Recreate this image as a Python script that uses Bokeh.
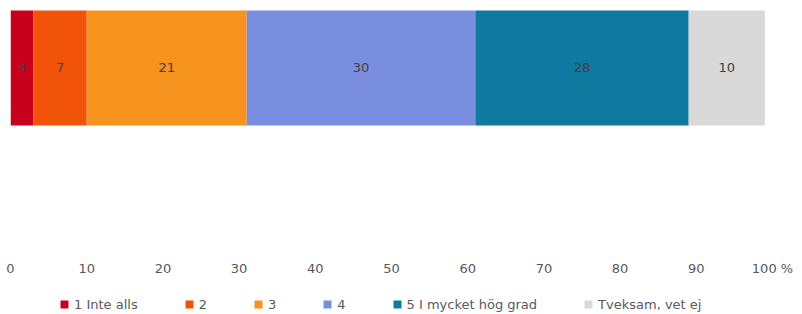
from bokeh.plotting import figure
from bokeh.models import Range1d, Legend, LegendItem, FixedTicker
from bokeh.layouts import column
from bokeh.core.properties import value
from bokeh.embed import file_html
from bokeh.resources import INLINE

categories = ["1 Inte alls", "2", "3", "4", "5 I mycket hög grad", "Tveksam, vet ej"]
values = [3, 7, 21, 30, 28, 10]
colors = ["#C8001E", "#F15408", "#F6921E", "#7A8EE0", "#10799F", "#D9D9D9"]
tick_values = [0, 10, 20, 30, 40, 50, 60, 70, 80, 90, 100]
tick_labels = ["0", "10", "20", "30", "40", "50", "60", "70", "80", "90", "100 %"]

FONT = "DejaVu Sans"
BAR_Y = 0.7384
BAR_H = 0.4457

p = figure(width=802, height=280, x_range=Range1d(0, 100), y_range=Range1d(0, 1),
           output_backend="svg", toolbar_location=None, y_axis_location=None,
           min_border_left=10, min_border_right=30, min_border_top=0, min_border_bottom=22,
           outline_line_color=None)

lefts = []
acc = 0
for v in values:
    lefts.append(acc)
    acc += v
rights = [l + v for l, v in zip(lefts, values)]
mids = [(l + r) / 2 for l, r in zip(lefts, rights)]

p.hbar(y=[BAR_Y] * len(values), left=lefts, right=rights, height=BAR_H,
       fill_color=colors, line_color=None)

p.text(x=mids, y=[BAR_Y] * len(values), text=[str(v) for v in values],
       text_align="center", text_baseline="middle",
       text_font=value(FONT), text_font_size="13px", text_color="#404040")

ax = p.xaxis[0]
ax.ticker = FixedTicker(ticks=tick_values)
ax.major_label_overrides = {t: l for t, l in zip(tick_values, tick_labels)}
ax.axis_line_color = None
ax.major_tick_line_color = None
ax.minor_tick_line_color = None
ax.major_tick_out = 0
ax.major_tick_in = 0
ax.major_label_standoff = 2
ax.major_label_text_font = FONT
ax.major_label_text_font_size = "13px"
ax.major_label_text_color = "#595959"
p.grid.visible = False

# legend strip
q = figure(width=802, height=34, x_range=Range1d(0, 1), y_range=Range1d(0, 1),
           output_backend="svg", toolbar_location=None,
           x_axis_location=None, y_axis_location=None,
           min_border_left=0, min_border_right=0, min_border_top=0, min_border_bottom=0,
           outline_line_color=None)
q.grid.visible = False

items = []
for cat, col in zip(categories, colors):
    r = q.scatter(x=[0.5], y=[0.5], marker="square", size=0,
                  fill_color=col, line_color=None)
    items.append(LegendItem(label=cat, renderers=[r]))

legend = Legend(items=items, orientation="horizontal", location=(44, 0),
                padding=0, margin=0, spacing=41, label_standoff=-3,
                glyph_width=20, glyph_height=20, label_width=0, label_height=0,
                label_text_font=FONT, label_text_font_size="13px", label_text_color="#595959",
                border_line_color=None, background_fill_alpha=0)
q.add_layout(legend, "center")

layout = column(p, q)
open("out.html", "w").write(file_html(layout, INLINE))
